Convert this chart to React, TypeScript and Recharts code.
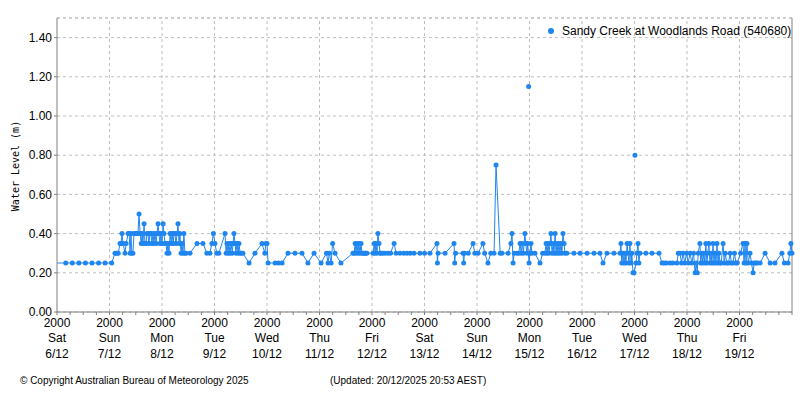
import React from "react";
import { LineChart, Line, XAxis, YAxis, CartesianGrid, ReferenceLine } from "recharts";

// hours since Sat 6/12 20:00, water level (m)
const readings: [number, number][] = [
  [0, 0.25], [4, 0.25], [7, 0.25], [10, 0.25], [13, 0.25], [16, 0.25], [19, 0.25], [22, 0.25], [25, 0.25],
  [26.5, 0.3], [27, 0.3], [27.5, 0.3], [28, 0.3], [28.8, 0.35], [29.3, 0.35], [29.7, 0.4], [30.2, 0.35],
  [31.1, 0.3], [31.6, 0.35], [32.5, 0.4], [33, 0.4], [33.4, 0.3], [33.8, 0.4], [34.2, 0.3], [34.7, 0.3],
  [35.2, 0.4], [35.7, 0.4], [36.2, 0.4], [36.6, 0.4], [37, 0.4], [37.5, 0.5], [38, 0.4], [38.5, 0.35],
  [38.9, 0.4], [39.3, 0.35], [39.8, 0.45], [40.2, 0.35], [40.7, 0.35], [41.1, 0.4], [41.6, 0.4], [42, 0.35],
  [42.5, 0.4], [43, 0.4], [43.4, 0.35], [43.9, 0.4], [44.3, 0.35], [44.8, 0.4], [45.3, 0.35], [45.7, 0.4],
  [46.2, 0.45], [46.6, 0.4], [47.1, 0.35], [47.5, 0.4], [48, 0.35], [48.5, 0.45], [48.9, 0.4], [49.4, 0.35],
  [49.8, 0.35], [50.3, 0.3], [50.7, 0.35], [51.2, 0.3], [51.7, 0.4], [52.2, 0.35], [52.6, 0.4], [53.1, 0.35],
  [53.5, 0.4], [53.9, 0.4], [54.4, 0.35], [54.9, 0.4], [55.3, 0.45], [55.8, 0.35], [56.2, 0.4], [56.7, 0.3],
  [57.1, 0.35], [57.6, 0.3], [58, 0.4], [58.5, 0.3], [59, 0.3], [60.8, 0.3], [64, 0.35], [66.7, 0.35],
  [68.5, 0.3], [69.9, 0.3], [70.8, 0.35], [71.5, 0.4], [72.2, 0.35], [73, 0.3], [74, 0.3], [76.8, 0.4],
  [77.3, 0.3], [77.7, 0.35], [78.2, 0.3], [78.6, 0.35], [79.1, 0.3], [79.6, 0.35], [80.1, 0.3], [80.5, 0.35],
  [80.9, 0.4], [81.4, 0.35], [81.8, 0.3], [82.3, 0.35], [82.8, 0.3], [83.2, 0.35], [83.7, 0.3], [84.2, 0.3],
  [85, 0.3], [87.8, 0.25], [90.5, 0.3], [93.7, 0.35], [95, 0.3], [95.5, 0.35], [96, 0.35], [96.5, 0.25],
  [99.7, 0.25], [101.3, 0.25], [102.9, 0.25], [105.6, 0.3], [108.8, 0.3], [112, 0.3], [114.7, 0.25],
  [117.5, 0.3], [120.7, 0.25], [123.2, 0.3], [123.9, 0.25], [124.5, 0.3], [125.3, 0.25], [126, 0.35],
  [127.1, 0.3], [129.8, 0.25], [135.3, 0.3], [135.8, 0.3], [136.3, 0.35], [136.7, 0.3], [137.1, 0.35],
  [137.6, 0.3], [138, 0.35], [138.5, 0.3], [139, 0.35], [139.4, 0.3], [139.9, 0.3], [140.3, 0.3], [140.8, 0.3],
  [141.2, 0.3], [141.7, 0.3], [144.5, 0.3], [145, 0.35], [145.4, 0.3], [145.8, 0.35], [146.3, 0.3],
  [146.7, 0.4], [147.2, 0.35], [147.7, 0.3], [148.1, 0.3], [149, 0.3], [150, 0.3], [151.3, 0.3], [152.5, 0.3],
  [154.1, 0.35], [155, 0.3], [156.8, 0.3], [158.5, 0.3], [160, 0.3], [161.5, 0.3], [163.2, 0.3], [165.9, 0.3],
  [168, 0.3], [170.5, 0.3], [173.7, 0.35], [173.9, 0.25], [174.2, 0.3], [177.4, 0.3], [181.5, 0.35],
  [181.8, 0.25], [182.2, 0.3], [185.6, 0.3], [185.9, 0.25], [186.3, 0.3], [188, 0.3], [190.2, 0.35],
  [191, 0.3], [192.5, 0.3], [194.7, 0.35], [195.5, 0.3], [197, 0.25], [198.3, 0.3], [199.8, 0.3],
  [200.7, 0.75], [202.6, 0.3], [203.4, 0.3], [206.2, 0.3], [207.5, 0.35],
  [208, 0.4], [208.5, 0.25], [209, 0.3], [210.3, 0.3], [211.1, 0.3], [211.7, 0.35], [212.2, 0.3],
  [212.7, 0.35], [213.2, 0.3], [213.9, 0.4], [214.3, 0.35], [214.8, 0.3], [215.2, 0.35],
  [215.8, 0.25], [216.2, 0.3], [216.7, 0.35], [217.1, 0.3], [218.5, 0.3], [220.8, 0.25], [222, 0.3],
  [223.1, 0.3], [223.6, 0.35], [224, 0.3], [224.5, 0.35], [224.9, 0.3], [225.4, 0.35], [225.8, 0.4],
  [226.3, 0.3], [226.8, 0.35], [227.2, 0.3], [227.7, 0.4], [228.1, 0.3], [228.6, 0.35], [229, 0.3],
  [229.5, 0.35], [229.9, 0.3], [230.4, 0.35], [230.8, 0.3], [231.3, 0.4], [231.8, 0.35], [232.2, 0.3],
  [233.1, 0.3], [236.3, 0.3], [239.1, 0.3], [242.3, 0.3], [245.5, 0.3], [248.2, 0.3], [249.6, 0.25],
  [251.4, 0.3], [254.6, 0.3], [257.4, 0.3], [257.8, 0.35], [258.2, 0.25], [258.7, 0.3], [259.2, 0.25],
  [259.7, 0.3], [260.1, 0.25], [260.6, 0.35], [261, 0.3], [261.5, 0.25], [261.9, 0.35], [262.4, 0.25],
  [262.8, 0.3], [263.3, 0.2], [263.8, 0.2], [264.7, 0.25], [265.1, 0.3], [265.6, 0.35],
  [266, 0.25], [266.5, 0.3], [269.2, 0.3], [272, 0.3], [275.2, 0.3], [276.6, 0.25], [277.5, 0.25],
  [278.5, 0.25], [280.2, 0.25], [281.5, 0.25], [283.4, 0.25], [284, 0.3], [284.8, 0.3], [285.5, 0.25],
  [286.2, 0.3], [287, 0.25], [287.8, 0.3], [288.5, 0.25], [289.4, 0.3], [290.2, 0.25], [291, 0.3],
  [291.7, 0.2], [292.2, 0.25], [292.7, 0.2], [293.1, 0.3], [293.9, 0.35], [294.3, 0.25], [294.8, 0.3],
  [295.2, 0.25], [295.7, 0.3], [296.2, 0.25], [296.6, 0.35], [297.1, 0.25], [297.5, 0.3], [298, 0.35],
  [298.5, 0.25], [299, 0.3], [299.4, 0.25], [299.9, 0.35], [300.3, 0.25], [300.8, 0.3], [301.3, 0.25],
  [301.7, 0.35], [302.2, 0.25], [302.6, 0.3], [303.1, 0.25], [303.6, 0.25], [304.5, 0.35], [305, 0.25],
  [305.5, 0.3], [306.2, 0.25], [307, 0.25], [307.7, 0.3], [308.3, 0.25], [309, 0.25], [309.7, 0.3],
  [310.4, 0.25], [310.9, 0.25], [312.5, 0.3], [313.6, 0.35], [314.1, 0.25], [314.5, 0.35], [315, 0.25],
  [315.4, 0.35], [316, 0.25], [316.8, 0.3], [317.5, 0.25], [318.2, 0.2], [318.7, 0.25], [319.5, 0.25],
  [320, 0.25], [321.4, 0.25], [323.7, 0.3], [326, 0.25], [328.2, 0.25], [331.4, 0.3], [332.5, 0.25],
  [334.2, 0.25], [335, 0.3], [335.5, 0.35], [336, 0.3],
];

// lone readings drawn without a connecting line
const isolatedReadings: [number, number][] = [
  [215.6, 1.15],
  [264.2, 0.8],
];

const dayNames = ["Sat", "Sun", "Mon", "Tue", "Wed", "Thu", "Fri", "Sat", "Sun", "Mon", "Tue", "Wed", "Thu", "Fri"];
const dayDates = ["6/12", "7/12", "8/12", "9/12", "10/12", "11/12", "12/12", "13/12", "14/12", "15/12", "16/12", "17/12", "18/12", "19/12"];
const levelTicks = [0, 0.2, 0.4, 0.6, 0.8, 1.0, 1.2, 1.4];

const BLUE = "#1f85ef";
const GRID = "#bdbdbd";
const AXIS = "#808080";
const FONT = "'Liberation Sans', Arial, sans-serif";

const data = readings.map(([h, level]) => ({ h, level }));
const isolated = isolatedReadings.map(([h, level]) => ({ h, level }));
const hourTicks = Array.from({ length: 57 }, (_, i) => i * 6);
const dayLines = dayDates.map((_, i) => (i + 1) * 24).filter((h) => h < 336);

function DayTick(props: any) {
  const { x, y, payload } = props;
  const h = payload.value;
  if (h % 24 !== 0 || h >= 336) return <g />;
  const i = h / 24;
  return (
    <text x={x} y={y} textAnchor="middle" fontFamily={FONT} fontSize={12} fill="#000">
      <tspan x={x} dy={10}>2000</tspan>
      <tspan x={x} dy={15}>{dayNames[i]}</tspan>
      <tspan x={x} dy={15.5}>{dayDates[i]}</tspan>
    </text>
  );
}

// the series enters from the left edge, so the first point has no marker
function ReadingDot(props: any) {
  const { cx, cy, index } = props;
  if (index === 0 || cx == null || cy == null) return <g key={`d${index}`} />;
  return <circle key={`d${index}`} cx={cx} cy={cy} r={2.5} fill={BLUE} />;
}

export default function App() {
  return (
    <div style={{ position: "absolute", left: 0, top: 0, width: 800, height: 400, background: "#fff" }}>
      <LineChart width={800} height={400} data={data} margin={{ top: 18, right: 8, bottom: 38, left: 0 }}>
        <CartesianGrid vertical={false} stroke={GRID} strokeDasharray="3 3" />
        {dayLines.map((h) => (
          <ReferenceLine key={h} x={h} stroke={GRID} strokeDasharray="3 3" />
        ))}
        <ReferenceLine y={1.5} stroke={GRID} strokeDasharray="3 3" />
        <ReferenceLine x={336} stroke={AXIS} />
        <XAxis
          dataKey="h"
          type="number"
          domain={[0, 336]}
          ticks={hourTicks}
          interval={0}
          height={50}
          tickSize={3}
          tickMargin={2}
          stroke={AXIS}
          tick={<DayTick />}
        />
        <YAxis
          type="number"
          domain={[0, 1.5]}
          ticks={levelTicks}
          interval={0}
          width={57}
          tickSize={3}
          tickMargin={2}
          stroke={AXIS}
          tickFormatter={(v: number) => v.toFixed(2)}
          tick={{ fill: "#000", fontSize: 12, fontFamily: FONT }}
        />
        <Line
          type="linear"
          dataKey="level"
          stroke={BLUE}
          strokeWidth={1}
          dot={ReadingDot}
          isAnimationActive={false}
        />
        <Line
          data={isolated}
          type="linear"
          dataKey="level"
          stroke="none"
          dot={{ r: 2.5, fill: BLUE, stroke: "none" }}
          isAnimationActive={false}
          legendType="none"
        />
      </LineChart>
      <svg width={800} height={400} style={{ position: "absolute", left: 0, top: 0, pointerEvents: "none" }}>
        <text
          x={0}
          y={0}
          transform="translate(19,166) rotate(-90)"
          textAnchor="middle"
          fontFamily="'DejaVu Sans Mono', monospace"
          fontSize={10}
          fill="#000"
        >
          Water Level (m)
        </text>
        <circle cx={551} cy={31} r={3} fill={BLUE} />
        <text x={562} y={35} fontFamily={FONT} fontSize={12} fill="#000">
          Sandy Creek at Woodlands Road (540680)
        </text>
        <text x={20} y={384} fontFamily={FONT} fontSize={10} fill="#000">
          © Copyright Australian Bureau of Meteorology 2025
        </text>
        <text x={330} y={384} fontFamily={FONT} fontSize={10} fill="#000">
          (Updated: 20/12/2025 20:53 AEST)
        </text>
      </svg>
    </div>
  );
}
